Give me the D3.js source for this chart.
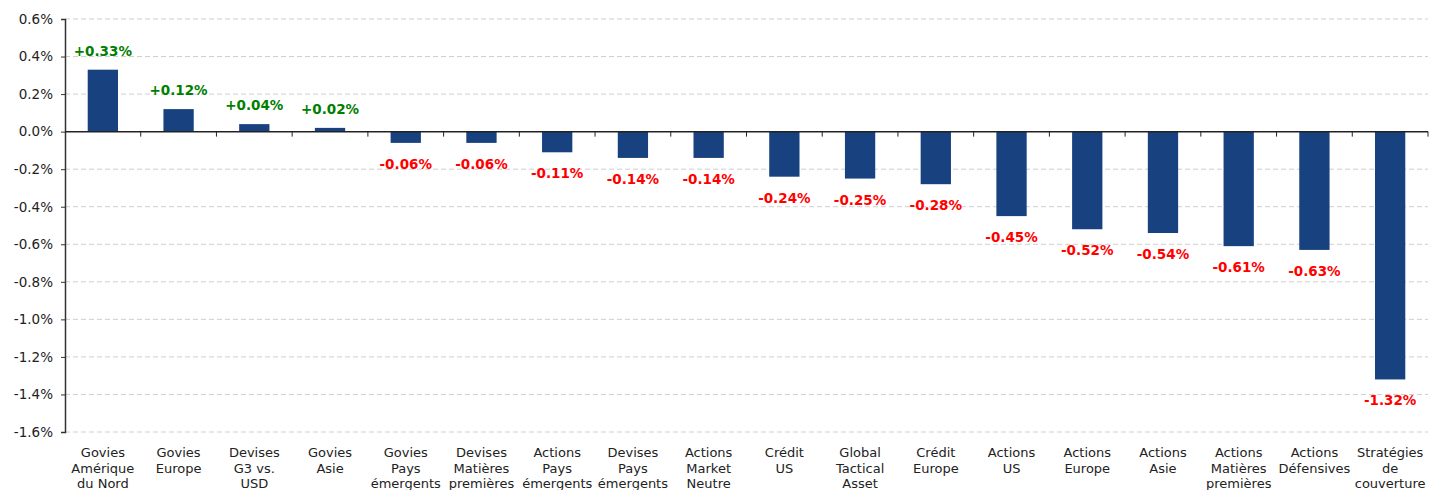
<!DOCTYPE html>
<html>
<head>
<meta charset="utf-8">
<script src="https://cdn.jsdelivr.net/npm/d3@7"></script>
<style>
  body { margin: 0; background: #fff; }
  svg text { font-family: "DejaVu Sans", Verdana, sans-serif; }
</style>
</head>
<body>
<div id="chart"></div>
<script>
// Categories (label lines) and performance values in %
var categories = [
  ["Govies", "Amérique", "du Nord"],
  ["Govies", "Europe"],
  ["Devises", "G3 vs.", "USD"],
  ["Govies", "Asie"],
  ["Govies", "Pays", "émergents"],
  ["Devises", "Matières", "premières"],
  ["Actions", "Pays", "émergents"],
  ["Devises", "Pays", "émergents"],
  ["Actions", "Market", "Neutre"],
  ["Crédit", "US"],
  ["Global", "Tactical", "Asset"],
  ["Crédit", "Europe"],
  ["Actions", "US"],
  ["Actions", "Europe"],
  ["Actions", "Asie"],
  ["Actions", "Matières", "premières"],
  ["Actions", "Défensives"],
  ["Stratégies", "de", "couverture"]
];
var values = [0.33, 0.12, 0.04, 0.02, -0.06, -0.06, -0.11, -0.14, -0.14, -0.24, -0.25, -0.28, -0.45, -0.52, -0.54, -0.61, -0.63, -1.32];
var yTicks = [0.6, 0.4, 0.2, 0.0, -0.2, -0.4, -0.6, -0.8, -1.0, -1.2, -1.4, -1.6];

var width = 1430, height = 490;
var margin = {left: 65, right: 2, top: 19, bottom: 58};

var svg = d3.select("#chart").append("svg")
    .attr("width", width)
    .attr("height", height);

var x = d3.scaleBand()
    .domain(d3.range(values.length))
    .range([margin.left, width - margin.right])
    .paddingInner(0.6)
    .paddingOuter(0.3);

var y = d3.scaleLinear()
    .domain([-1.6, 0.6])
    .range([height - margin.bottom, margin.top]);

// dashed gridlines
svg.append("g")
  .selectAll("line")
  .data(yTicks.filter(function(d) { return d !== 0; }))
  .enter().append("line")
    .attr("x1", margin.left)
    .attr("x2", width - margin.right)
    .attr("y1", function(d) { return y(d); })
    .attr("y2", function(d) { return y(d); })
    .attr("stroke", "#cfcfcf")
    .attr("stroke-dasharray", "5,3");

// bars
svg.append("g")
  .selectAll("rect")
  .data(values)
  .enter().append("rect")
    .attr("x", function(d, i) { return x(i); })
    .attr("width", x.bandwidth())
    .attr("y", function(d) { return y(Math.max(0, d)); })
    .attr("height", function(d) { return Math.abs(y(d) - y(0)); })
    .attr("fill", "#17417f");

// y axis
var yAxis = d3.axisLeft(y)
    .tickValues(yTicks)
    .tickSize(4)
    .tickFormat(function(d) { return d.toFixed(1) + "%"; });

var gy = svg.append("g")
    .attr("transform", "translate(" + margin.left + ",0)")
    .call(yAxis);
gy.select(".domain").attr("stroke", "#333").attr("stroke-width", 1.5);
gy.selectAll(".tick line").attr("stroke", "#333");
gy.selectAll(".tick text")
    .attr("font-size", 13.5)
    .attr("fill", "#222")
    .attr("x", -12);

// zero line with category boundary ticks
var x0 = margin.left;
svg.append("line")
    .attr("x1", x0)
    .attr("x2", width - margin.right)
    .attr("y1", y(0))
    .attr("y2", y(0))
    .attr("stroke", "#222")
    .attr("stroke-width", 1.5);

svg.append("g")
  .selectAll("line")
  .data(d3.range(1, values.length + 1))
  .enter().append("line")
    .attr("x1", function(i) { return x0 + (width - margin.right - x0) * i / values.length; })
    .attr("x2", function(i) { return x0 + (width - margin.right - x0) * i / values.length; })
    .attr("y1", y(0))
    .attr("y2", y(0) + 5)
    .attr("stroke", "#222");

// value labels
svg.append("g")
  .selectAll("text")
  .data(values)
  .enter().append("text")
    .attr("x", function(d, i) { return x(i) + x.bandwidth() / 2; })
    .attr("y", function(d) { return d >= 0 ? y(d) - 14 : y(d) + 26; })
    .attr("text-anchor", "middle")
    .attr("font-size", 13.5)
    .attr("font-weight", "bold")
    .attr("fill", function(d) { return d >= 0 ? "#008000" : "#ff0000"; })
    .text(function(d) { return (d > 0 ? "+" : "") + d.toFixed(2) + "%"; });

// category labels
var cat = svg.append("g")
  .selectAll("text")
  .data(categories)
  .enter().append("text")
    .attr("text-anchor", "middle")
    .attr("font-size", 13)
    .attr("fill", "#222")
    .attr("transform", function(d, i) {
      return "translate(" + (x(i) + x.bandwidth() / 2) + "," + (height - margin.bottom + 25) + ")";
    });

cat.selectAll("tspan")
  .data(function(d) { return d; })
  .enter().append("tspan")
    .attr("x", 0)
    .attr("dy", function(d, i) { return i === 0 ? 0 : 15.5; })
    .text(function(d) { return d; });
</script>
</body>
</html>
